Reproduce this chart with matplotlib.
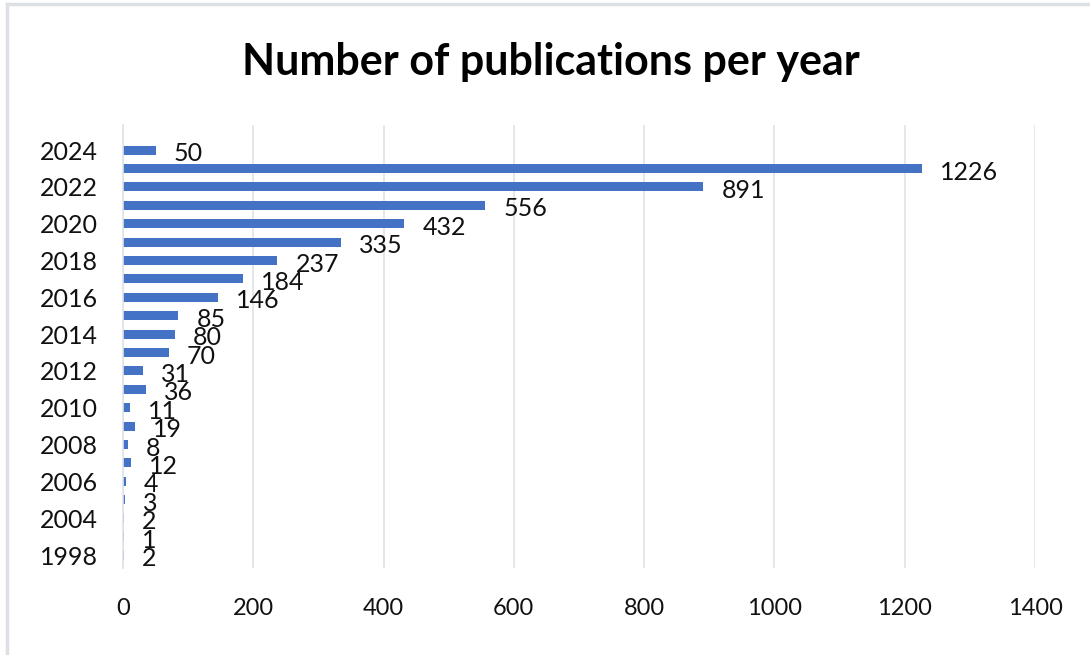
import matplotlib.pyplot as plt
from matplotlib.lines import Line2D

years = ["1998", "2003", "2004", "2005", "2006", "2007", "2008", "2009", "2010",
         "2011", "2012", "2013", "2014", "2015", "2016", "2017", "2018", "2019",
         "2020", "2021", "2022", "2023", "2024"]
counts = [2, 1, 2, 3, 4, 12, 8, 19, 11, 36, 31, 70, 80, 85, 146, 184, 237, 335,
          432, 556, 891, 1226, 50]
xticks = [0, 200, 400, 600, 800, 1000, 1200, 1400]

plt.rcParams['font.family'] = ['Lato', 'DejaVu Sans']

fig = plt.figure(figsize=(10.9, 6.55), dpi=100)
ax = fig.add_axes([0.1128, 0.133, 0.8367, 0.676])

pos = list(range(len(years)))
ax.barh(pos, counts, height=0.49, color="#4472C4")

# data labels, slightly below the bar like Excel does
for p, v in zip(pos, counts):
    ax.annotate(str(v), (v, p), xytext=(13, -2.5), textcoords="offset points",
                ha="left", va="center", fontsize=18, color="#111111")

ax.set_xlim(0, 1400)
ax.set_ylim(-0.7, len(years) + 0.36)
ax.set_xticks(xticks)
ax.set_xticklabels([str(t) for t in xticks], fontsize=17)
ax.set_yticks(pos[::2])
ax.set_yticklabels(years[::2], fontsize=18)
ax.tick_params(axis="both", length=0, colors="#111111")
ax.tick_params(axis="x", pad=22)
ax.tick_params(axis="y", pad=18)

ax.grid(axis="x", color="#dfe3e8", linewidth=1.2)
ax.set_axisbelow(True)
for s in ["top", "right", "bottom"]:
    ax.spines[s].set_visible(False)
ax.spines["left"].set_color("#dfe3e8")
ax.spines["left"].set_linewidth(1.2)

fig.text(0.505, 0.906, "Number of publications per year", ha="center",
         va="center", fontsize=31, fontweight="bold", color="#000000")

# outer chart border (only top and left edges visible)
fig.add_artist(Line2D([0.0065, 0.0065], [0, 0.994], transform=fig.transFigure,
                      color="#dde1e6", linewidth=2.5))
fig.add_artist(Line2D([0.0065, 1.0], [0.994, 0.994], transform=fig.transFigure,
                      color="#dde1e6", linewidth=2.5))

fig.savefig("out.png", dpi=100)
